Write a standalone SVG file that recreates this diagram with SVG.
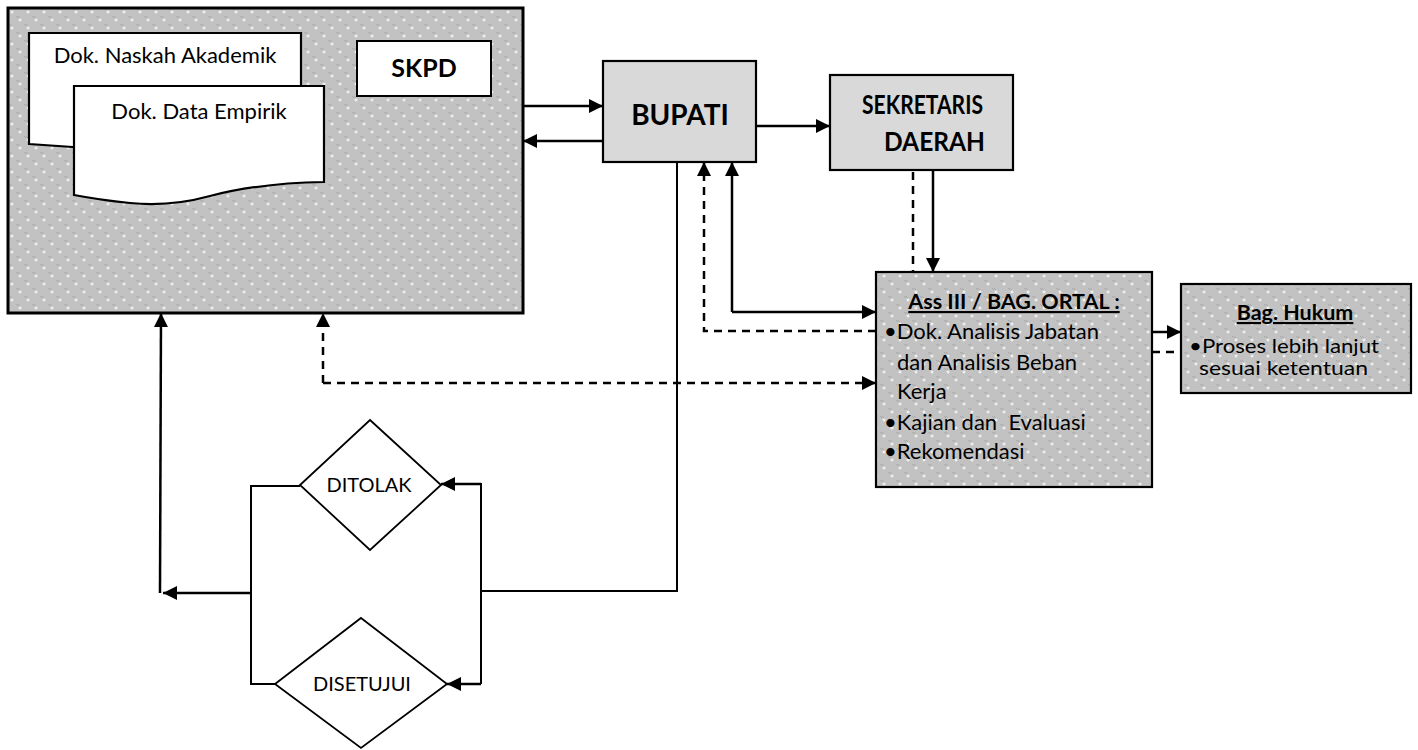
<svg xmlns="http://www.w3.org/2000/svg" width="1418" height="750" viewBox="0 0 1418 750">
<style>
.t{font-family:Lato,"Open Sans",sans-serif;fill:#000}
.b{font-weight:bold}
.c{fill:none;stroke:#000;stroke-width:2.5}
.d{stroke-dasharray:8 6}
.box{stroke:#000;stroke-width:3}
.doc{fill:#fff;stroke:#000;stroke-width:2.2}
.dia{fill:#fff;stroke:#000;stroke-width:1.8}
</style>
<defs>
<pattern id="pat" width="16" height="16" patternUnits="userSpaceOnUse">
<rect width="16" height="16" fill="#c2c2c2"/>
<path d="M0 0h1v1h-1zM2 0h1v1h-1zM1 1h1v1h-1zM3 1h1v1h-1zM8 8h1v1h-1zM10 8h1v1h-1zM9 9h1v1h-1zM11 9h1v1h-1z" fill="#a8a8a8"/>
<path d="M4 2.5v3M2.5 4h3M12 10.5v3M10.5 12h3" stroke="#fff" stroke-width="1"/>
</pattern>
<marker id="ah" viewBox="0 0 14 14" refX="14" refY="7" markerWidth="14" markerHeight="14" markerUnits="userSpaceOnUse" orient="auto">
<path d="M0 0L14 7L0 14z" fill="#000"/>
</marker>
</defs>

<g id="skpd-area">
<rect x="8" y="8" width="515" height="305" fill="url(#pat)" class="box"/>
</g>
<g id="doc-naskah">
<path class="doc" d="M29 33H301V150Q200 150 130 150Q80 148 29 144Z"/>
<text class="t" x="165" y="63" font-size="22" text-anchor="middle">Dok. Naskah Akademik</text>
</g>
<g id="doc-data">
<path class="doc" d="M74 86H324V182Q260 183 210 196Q170 207 130 203Q100 200 74 195Z"/>
<text class="t" x="199" y="119" font-size="22" text-anchor="middle">Dok. Data Empirik</text>
</g>
<g id="skpd">
<rect x="357" y="41" width="134" height="55" fill="#fff" stroke="#000" stroke-width="2"/>
<text class="t b" x="424" y="77" font-size="25" text-anchor="middle">SKPD</text>
</g>
<g id="bupati">
<rect x="603" y="61" width="153" height="101" fill="#d9d9d9" stroke="#000" stroke-width="2.2"/>
<text class="t b" x="680" y="125" font-size="28" text-anchor="middle">BUPATI</text>
</g>
<g id="sekda">
<rect x="830" y="75" width="183" height="95" fill="#d9d9d9" stroke="#000" stroke-width="2.2"/>
<text class="t b" x="862" y="114" font-size="26" textLength="121" lengthAdjust="spacingAndGlyphs">SEKRETARIS</text>
<text class="t b" x="884" y="151" font-size="26" textLength="101" lengthAdjust="spacingAndGlyphs">DAERAH</text>
</g>
<g id="ortal">
<rect x="876" y="272" width="276" height="215" fill="url(#pat)" stroke="#000" stroke-width="2.2"/>
<text class="t b" x="1014" y="309" font-size="21.5" text-anchor="middle" text-decoration="underline">Ass III / BAG. ORTAL :</text>
<text class="t" font-size="22" style="white-space:pre">
<tspan x="884" y="339">•Dok. Analisis Jabatan</tspan>
<tspan x="897" y="370">dan Analisis Beban</tspan>
<tspan x="897" y="399">Kerja</tspan>
<tspan x="884" y="430">•Kajian dan  Evaluasi</tspan>
<tspan x="884" y="459">•Rekomendasi</tspan>
</text>
</g>
<g id="hukum">
<rect x="1181" y="284" width="230" height="109" fill="url(#pat)" stroke="#000" stroke-width="2.2"/>
<text class="t b" x="1295" y="320" font-size="21.5" text-anchor="middle" text-decoration="underline">Bag. Hukum</text>
<text class="t" x="1189" y="353" font-size="19" textLength="190" lengthAdjust="spacingAndGlyphs">•Proses lebih lanjut</text>
<text class="t" x="1199" y="375" font-size="19" textLength="169" lengthAdjust="spacingAndGlyphs">sesuai ketentuan</text>
</g>
<g id="ditolak">
<path class="dia" d="M370 420L441 485L370 550L300 485Z"/>
<text class="t" x="369" y="492" font-size="20" text-anchor="middle">DITOLAK</text>
</g>
<g id="disetujui">
<path class="dia" d="M361 618L447 684L361 748L275 684Z"/>
<text class="t" x="362" y="691" font-size="20" text-anchor="middle">DISETUJUI</text>
</g>

<g id="connectors">
<path class="c" d="M523 106H603" marker-end="url(#ah)"/>
<path class="c" d="M603 141H523" marker-end="url(#ah)"/>
<path class="c" d="M756 126H830" marker-end="url(#ah)"/>
<path class="c" d="M933 170V272" marker-end="url(#ah)"/>
<path class="c d" d="M913 172V272"/>
<path class="c" d="M732 312V162" marker-end="url(#ah)"/>
<path class="c" d="M732 312H876" marker-end="url(#ah)"/>
<path class="c d" d="M876 331H704V162" marker-end="url(#ah)"/>
<path class="c d" d="M323 383H876" marker-end="url(#ah)"/>
<path class="c d" d="M323 383V313" marker-end="url(#ah)"/>
<path class="c" d="M1152 332H1181" marker-end="url(#ah)"/>
<path class="c d" d="M1152 352H1181"/>
<path class="c" d="M677 162V591H481" style="stroke-width:2"/>
<path class="c" d="M481 483V684" style="stroke-width:2"/>
<path class="c" d="M481 484H441" marker-end="url(#ah)"/>
<path class="c" d="M481 684H447" marker-end="url(#ah)"/>
<path class="c" d="M300 486H251V684H275" style="stroke-width:2"/>
<path class="c" d="M251 593H163" marker-end="url(#ah)"/>
<path class="c" d="M160 593L161 313" marker-end="url(#ah)"/>
</g>
</svg>
